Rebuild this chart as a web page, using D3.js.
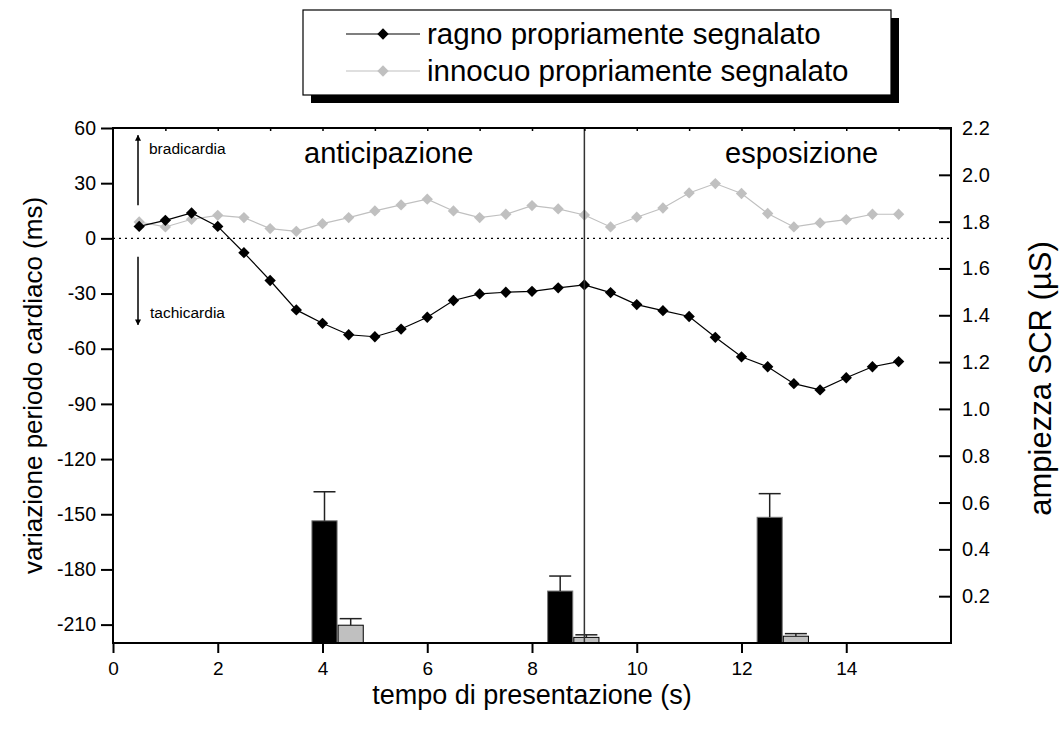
<!DOCTYPE html>
<html>
<head>
<meta charset="utf-8">
<script src="https://cdn.jsdelivr.net/npm/d3@7"></script>
<style>
  body { margin: 0; background: #fff; }
  text { font-family: "Liberation Sans", Arial, sans-serif; }
</style>
</head>
<body>
<svg id="chart" width="1064" height="731"></svg>
<script>
// time points (s)
const tempo = [0.5, 1, 1.5, 2, 2.5, 3, 3.5, 4, 4.5, 5, 5.5, 6, 6.5, 7, 7.5, 8,
  8.5, 9, 9.5, 10, 10.5, 11, 11.5, 12, 12.5, 13, 13.5, 14, 14.5, 15];
// heart period change (ms)
const ragnoHR = [6.5, 9.8, 13.8, 6.5, -7.8, -22.9, -38.9, -46.2, -52.4, -53.5, -49.3, -42.9,
  -33.8, -30.2, -29.3, -28.8, -26.9, -25.3, -29.5, -36, -39.3, -42.5, -53.8, -64.4,
  -69.8, -79, -82.4, -75.8, -69.8, -67];
const innocuoHR = [8.9, 6.2, 10.4, 12.5, 11.3, 5.3, 3.8, 8, 11.3, 14.9, 18.2, 21.3,
  14.9, 11.3, 13.1, 17.8, 16, 12.7, 6.2, 11.5, 16.5, 24.7, 29.8, 24.4,
  13.5, 6.2, 8.4, 10.2, 13.1, 13.1];
// SCR amplitude (µS)
const ragnoBarX = [4, 8.5, 12.5];
const ragnoSCR = [0.522, 0.222, 0.537];
const ragnoErr = [0.124, 0.064, 0.101];
const innocuoBarX = [4.5, 9, 13];
const innocuoSCR = [0.076, 0.024, 0.029];
const innocuoErr = [0.028, 0.011, 0.011];

const xTicks = [0, 2, 4, 6, 8, 10, 12, 14];
const yLeftTicks = [60, 30, 0, -30, -60, -90, -120, -150, -180, -210];
const yRightTicks = [0.2, 0.4, 0.6, 0.8, 1.0, 1.2, 1.4, 1.6, 1.8, 2.0, 2.2];

const svg = d3.select('#chart');
const L = 113, R = 951, T = 128, B = 643;

const x = d3.scaleLinear().domain([0, 16]).range([L, R]);
const yL = d3.scaleLinear().domain([-220, 60]).range([B, T]);
const yR = d3.scaleLinear().domain([0, 2.2]).range([B, T]);

const grey = '#c0c0c0';

// bars
function bars(xs, vals, errs, fill, stroke) {
  const w = x(0.48) - x(0);
  const g = svg.append('g');
  xs.forEach((d, i) => {
    g.append('rect')
      .attr('x', x(d) - w / 2 + 2)
      .attr('y', yR(vals[i]))
      .attr('width', w)
      .attr('height', yR(0) - yR(vals[i]))
      .attr('fill', fill)
      .attr('stroke', stroke)
      .attr('stroke-width', 1);
    const cx = x(d) + 2;
    g.append('line')
      .attr('x1', cx).attr('x2', cx)
      .attr('y1', yR(vals[i])).attr('y2', yR(vals[i] + errs[i]))
      .attr('stroke', '#222').attr('stroke-width', 1.5);
    g.append('line')
      .attr('x1', cx - 11).attr('x2', cx + 11)
      .attr('y1', yR(vals[i] + errs[i])).attr('y2', yR(vals[i] + errs[i]))
      .attr('stroke', '#222').attr('stroke-width', 1.5);
  });
}
bars(ragnoBarX, ragnoSCR, ragnoErr, '#000', '#777');
bars(innocuoBarX, innocuoSCR, innocuoErr, grey, '#000');

// zero line
svg.append('line')
  .attr('x1', L).attr('x2', R)
  .attr('y1', yL(0)).attr('y2', yL(0))
  .attr('stroke', '#000').attr('stroke-width', 1.2)
  .attr('stroke-dasharray', '2,4');

// lines
const diamond = d3.symbol(d3.symbolSquare, 64);
function series(vals, color) {
  const line = d3.line().x((d, i) => x(tempo[i])).y(d => yL(d));
  svg.append('path')
    .attr('d', line(vals))
    .attr('fill', 'none')
    .attr('stroke', color)
    .attr('stroke-width', 1.2);
  svg.append('g').selectAll('path')
    .data(vals)
    .enter().append('path')
    .attr('d', diamond)
    .attr('transform', (d, i) => `translate(${x(tempo[i])},${yL(d)}) rotate(45)`)
    .attr('fill', color);
}
series(innocuoHR, grey);
series(ragnoHR, '#000');

// vertical separator at 9 s
svg.append('line')
  .attr('x1', x(9)).attr('x2', x(9))
  .attr('y1', T).attr('y2', B)
  .attr('stroke', '#333').attr('stroke-width', 1.5);

// frame
svg.append('rect')
  .attr('x', L).attr('y', T).attr('width', R - L).attr('height', B - T)
  .attr('fill', 'none').attr('stroke', '#000').attr('stroke-width', 2);

// bottom axis
const axB = svg.append('g').attr('transform', `translate(0,${B})`);
axB.call(d3.axisBottom(x).tickValues(d3.range(0, 16, 1)).tickSize(6).tickFormat(''));
axB.call(d3.axisBottom(x).tickValues(xTicks).tickSize(10).tickFormat(d => String(d)));
axB.selectAll('.domain').remove();
axB.selectAll('line').attr('stroke-width', 2);
axB.selectAll('text').attr('font-size', 19).attr('dy', '1.0em');

// top ticks
const axT = svg.append('g').attr('transform', `translate(0,${T})`);
axT.call(d3.axisBottom(x).tickValues(d3.range(1, 16, 1)).tickSize(3).tickFormat(''));
axT.selectAll('.domain').remove();
axT.selectAll('line').attr('stroke-width', 1.5);

// left axis
const axL = svg.append('g').attr('transform', `translate(${L},0)`);
axL.call(d3.axisLeft(yL).tickValues(d3.range(-210, 61, 15)).tickSize(6).tickFormat(''));
axL.call(d3.axisLeft(yL).tickValues(yLeftTicks).tickSize(12).tickPadding(5).tickFormat(d => String(d)));
axL.selectAll('.domain').remove();
axL.selectAll('line').attr('stroke-width', 2);
axL.selectAll('text').attr('font-size', 19.5);

// right axis (ticks inward)
const axR = svg.append('g').attr('transform', `translate(${R},0)`);
axR.call(d3.axisLeft(yR).tickValues(d3.range(1, 22, 1).map(d => d / 10)).tickSize(6).tickFormat(''));
axR.call(d3.axisLeft(yR).tickValues(yRightTicks).tickSize(12).tickFormat(''));
axR.selectAll('.domain').remove();
axR.selectAll('line').attr('stroke-width', 2);
svg.append('g').selectAll('text')
  .data(yRightTicks)
  .enter().append('text')
  .attr('x', R + 11)
  .attr('y', d => yR(d))
  .attr('dy', '0.35em')
  .attr('font-size', 20)
  .text(d => d.toFixed(1));

// axis titles
svg.append('text')
  .attr('transform', `translate(${x(8)},704)`)
  .attr('text-anchor', 'middle')
  .attr('font-size', 27)
  .text('tempo di presentazione (s)');
svg.append('text')
  .attr('transform', `translate(42,${(T + B) / 2}) rotate(-90)`)
  .attr('text-anchor', 'middle')
  .attr('font-size', 26)
  .text('variazione periodo cardiaco (ms)');
svg.append('text')
  .attr('transform', `translate(1051,${(T + B) / 2 - 7}) rotate(-90)`)
  .attr('text-anchor', 'middle')
  .attr('font-size', 31)
  .text('ampiezza SCR (µS)');

// phase labels
svg.append('text').attr('x', 304).attr('y', 163).attr('font-size', 29).text('anticipazione');
svg.append('text').attr('x', 725).attr('y', 163).attr('font-size', 29).text('esposizione');

// bradicardia / tachicardia arrows
const defs = svg.append('defs');
defs.append('marker')
  .attr('id', 'arr').attr('viewBox', '0 0 10 10')
  .attr('refX', 9).attr('refY', 5)
  .attr('markerWidth', 4).attr('markerHeight', 5)
  .attr('markerUnits', 'strokeWidth')
  .attr('orient', 'auto')
  .append('path').attr('d', 'M0,0L10,5L0,10Z').attr('fill', '#000');
const ax = 138;
svg.append('line')
  .attr('x1', ax).attr('x2', ax).attr('y1', yL(18)).attr('y2', yL(56))
  .attr('stroke', '#000').attr('stroke-width', 1.5).attr('marker-end', 'url(#arr)');
svg.append('line')
  .attr('x1', ax).attr('x2', ax).attr('y1', yL(-10)).attr('y2', yL(-47))
  .attr('stroke', '#000').attr('stroke-width', 1.5).attr('marker-end', 'url(#arr)');
svg.append('text').attr('x', 149).attr('y', 154).attr('font-size', 15.5).text('bradicardia');
svg.append('text').attr('x', 150).attr('y', 318).attr('font-size', 15.5).text('tachicardia');

// legend
const lg = svg.append('g');
lg.append('rect').attr('x', 311).attr('y', 18).attr('width', 588).attr('height', 85).attr('fill', '#000');
lg.append('rect').attr('x', 303).attr('y', 10).attr('width', 588).attr('height', 85)
  .attr('fill', '#fff').attr('stroke', '#000').attr('stroke-width', 1.2);
const legendItems = [
  { label: 'ragno propriamente segnalato', color: '#000', y: 34 },
  { label: 'innocuo propriamente segnalato', color: grey, y: 71 }
];
legendItems.forEach(d => {
  lg.append('line').attr('x1', 346).attr('x2', 420).attr('y1', d.y).attr('y2', d.y)
    .attr('stroke', d.color).attr('stroke-width', 1.2);
  lg.append('path').attr('d', diamond)
    .attr('transform', `translate(383,${d.y}) rotate(45)`).attr('fill', d.color);
  lg.append('text').attr('x', 427).attr('y', d.y).attr('dy', '0.35em')
    .attr('font-size', 29.5).text(d.label);
});
</script>
</body>
</html>
